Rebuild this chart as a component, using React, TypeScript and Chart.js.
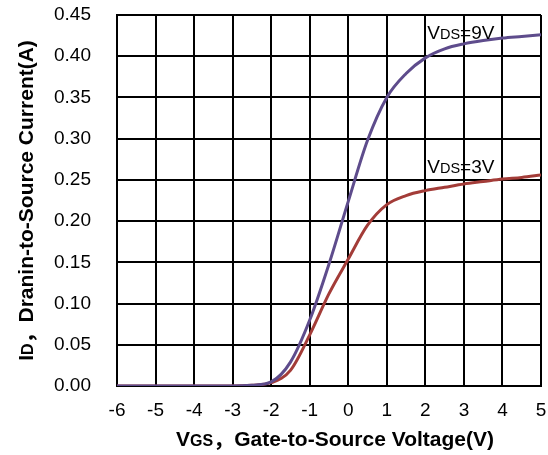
import React, { useEffect, useRef } from "react";
import { Chart, registerables } from "chart.js";

Chart.register(...registerables);

const vgs = [-6, -5.5, -5, -4.5, -4, -3.5, -3, -2.5, -2, -1.5, -1, -0.5, 0, 0.5, 1, 1.5, 2, 2.5, 3, 3.5, 4, 4.5, 5];
const id9V = [0, 0, 0, 0, 0, 0, 0, 0.001, 0.005, 0.029, 0.08, 0.148, 0.224, 0.298, 0.35, 0.379, 0.398, 0.409, 0.415, 0.419, 0.422, 0.424, 0.426];
const id3V = [0, 0, 0, 0, 0, 0, 0, 0.001, 0.004, 0.019, 0.062, 0.112, 0.154, 0.195, 0.22, 0.231, 0.237, 0.241, 0.245, 0.248, 0.251, 0.253, 0.256];

const xMin = -6;
const xMax = 5;
const yMax = 0.45;

const FONT = "'Liberation Sans', Arial, 'Noto Sans CJK SC', sans-serif";

type Seg = [string, number, boolean];

function richWidth(ctx: CanvasRenderingContext2D, segs: Seg[]) {
  let w = 0;
  for (const [t, s, b] of segs) {
    ctx.font = `${b ? "bold " : ""}${s}px ${FONT}`;
    w += ctx.measureText(t).width;
  }
  return w;
}

function drawRich(ctx: CanvasRenderingContext2D, segs: Seg[], x: number, y: number, align: "left" | "center") {
  let cx = align === "center" ? x - richWidth(ctx, segs) / 2 : x;
  ctx.textAlign = "left";
  ctx.textBaseline = "alphabetic";
  for (const [t, s, b] of segs) {
    ctx.font = `${b ? "bold " : ""}${s}px ${FONT}`;
    ctx.fillText(t, cx, y);
    cx += ctx.measureText(t).width;
  }
}

const textPlugin = {
  id: "richText",
  afterDatasetsDraw(chart: any) {
    const ctx: CanvasRenderingContext2D = chart.ctx;
    const { chartArea, scales } = chart;
    ctx.save();
    ctx.fillStyle = "#000";
    const xs = scales.x;
    const ys = scales.y;
    drawRich(ctx, [["V", 19, false], ["DS", 14.5, false], ["=9V", 19, false]], xs.getPixelForValue(2.05), ys.getPixelForValue(0.421), "left");
    drawRich(ctx, [["V", 19, false], ["DS", 14.5, false], ["=3V", 19, false]], xs.getPixelForValue(2.05), ys.getPixelForValue(0.2585), "left");
    const cxm = (chartArea.left + chartArea.right) / 2;
    drawRich(ctx, [["V", 21, true], ["GS", 16, true], ["，", 21, true], ["Gate-to-Source Voltage(V)", 21, true]], cxm + 6, 446, "center");
    const cym = (chartArea.top + chartArea.bottom) / 2;
    ctx.translate(33, cym);
    ctx.rotate(-Math.PI / 2);
    drawRich(ctx, [["I", 21, true], ["D", 16, true], ["，", 21, true], ["Dranin-to-Source Current(A)", 21, true]], 0, 0, "center");
    ctx.restore();
  },
};

export default function App() {
  const ref = useRef<HTMLCanvasElement>(null);
  useEffect(() => {
    if (!ref.current) return;
    const chart = new Chart(ref.current, {
      type: "line",
      data: {
        datasets: [
          {
            label: "VDS=9V",
            data: vgs.map((x, i) => ({ x, y: id9V[i] })),
            borderColor: "#5E4C8C",
            borderWidth: 3,
            pointRadius: 0,
            cubicInterpolationMode: "monotone",
            fill: false,
          },
          {
            label: "VDS=3V",
            data: vgs.map((x, i) => ({ x, y: id3V[i] })),
            borderColor: "#A33C38",
            borderWidth: 3,
            pointRadius: 0,
            cubicInterpolationMode: "monotone",
            fill: false,
          },
        ],
      },
      options: {
        animation: false,
        responsive: false,
        events: [],
        layout: { padding: { top: 15, right: 7, left: 0, bottom: 0 } },
        plugins: { legend: { display: false }, tooltip: { enabled: false } },
        scales: {
          x: {
            type: "linear",
            min: xMin,
            max: xMax,
            ticks: {
              stepSize: 1,
              color: "#000",
              padding: 13,
              font: { family: FONT, size: 19 },
              maxRotation: 0,
              callback: (v: any) => String(v),
            },
            grid: { color: "#000", lineWidth: 2, drawTicks: false },
            border: { color: "#000", width: 2 },
            afterFit: (s: any) => {
              s.height = 69;
              s.paddingLeft = 0;
              s.paddingRight = 0;
              s.paddingTop = 0;
              s.paddingBottom = 0;
            },
          },
          y: {
            type: "linear",
            min: 0,
            max: yMax,
            ticks: {
              stepSize: 0.05,
              color: "#000",
              padding: 26,
              font: { family: FONT, size: 19 },
              callback: (v: any) => Number(v).toFixed(2),
            },
            grid: { color: "#000", lineWidth: 2, drawTicks: false },
            border: { color: "#000", width: 2 },
            afterFit: (s: any) => {
              s.width = 117;
              s.paddingLeft = 0;
              s.paddingRight = 0;
              s.paddingTop = 0;
              s.paddingBottom = 0;
            },
          },
        },
      },
      plugins: [textPlugin],
    } as any);
    return () => chart.destroy();
  }, []);
  return (
    <div style={{ position: "fixed", left: 0, top: 0, width: 548, height: 455, background: "#fff" }}>
      <canvas ref={ref} width={548} height={455} style={{ display: "block" }} />
    </div>
  );
}
